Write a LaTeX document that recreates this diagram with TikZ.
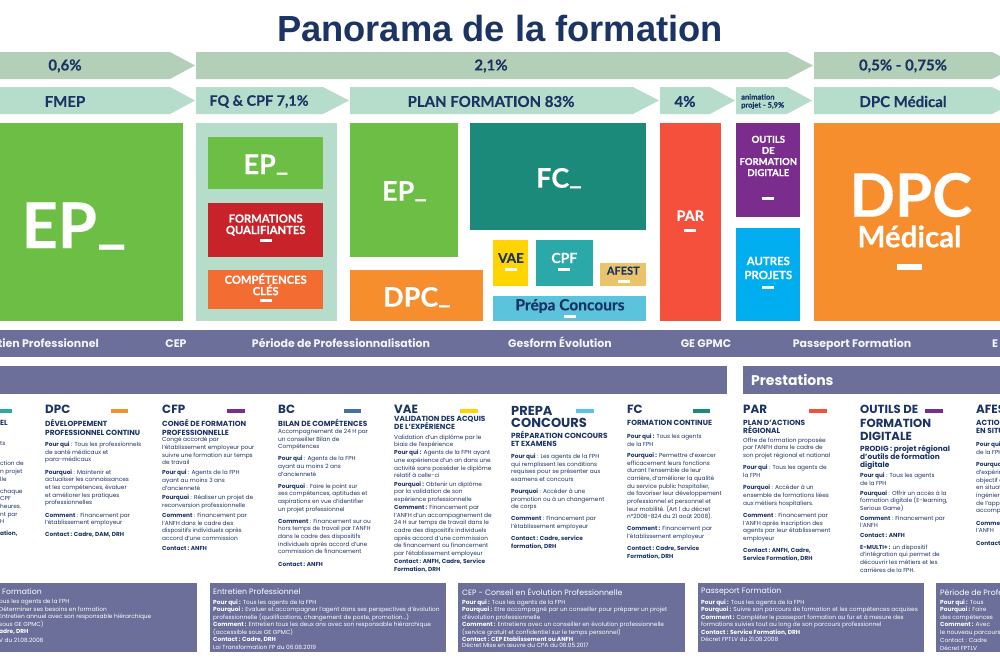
\documentclass[tikz,border=0pt]{standalone}
\usepackage{fontspec}
\setmainfont{Poppins}
\newfontfamily\latofont{Lato}[BoldFeatures={FakeBold=0.25}]
\newfontfamily\titrefont{Liberation Sans}
\newcommand{\fs}[1]{\fontsize{#1}{#1}\selectfont}
\newcommand{\souligne}{\raisebox{0.12em}{\_}}

\definecolor{marine}{HTML}{1B3464}
\definecolor{vertA}{HTML}{B3CFB8}
\definecolor{vertB}{HTML}{B6DDCC}
\definecolor{vertEP}{HTML}{6DBE45}
\definecolor{rougeFQ}{HTML}{C8232A}
\definecolor{orangeCC}{HTML}{F36C31}
\definecolor{orangeDPC}{HTML}{F68E2E}
\definecolor{tealFC}{HTML}{1C8A7A}
\definecolor{jauneVAE}{HTML}{FFD400}
\definecolor{tealCPF}{HTML}{2BA8A8}
\definecolor{sableAF}{HTML}{E9C46A}
\definecolor{cielPC}{HTML}{5BC4DC}
\definecolor{rougePAR}{HTML}{F4503B}
\definecolor{violetOF}{HTML}{7B2D8E}
\definecolor{bleuAP}{HTML}{00AEEF}
\definecolor{bleuBC}{HTML}{4A6FA5}
\definecolor{bande}{HTML}{6B6F99}

\tikzset{
  titre/.style={text=marine,font=\titrefont\bfseries\fs{36.3}},
  taux/.style={text=marine,font=\latofont\bfseries\fs{15}},
  grand/.style={text=white,font=\latofont\bfseries\fs{27},anchor=base},
  lib/.style={text=white,font=\latofont\bfseries\fontsize{11.2}{11.4}\selectfont,align=center},
  barre/.style={fill=white,minimum width=12pt,minimum height=3pt},
  bandeau/.style={text=white!92!bande,font=\bfseries\fs{11},anchor=base},
  entete/.style={text=marine,font=\bfseries\fs{11.9},anchor=west,align=left},
  soustitre/.style={text=marine,font=\bfseries\fontsize{7.4}{8.4}\selectfont,anchor=north west,align=left,yshift=1pt,execute at begin node=\strut},
  corps/.style={text=marine,font=\fontsize{5.8}{7.65}\selectfont,anchor=north west,align=left,yshift=-0.7pt,execute at begin node=\strut},
  fiche/.style={text=white,font=\fontsize{5.85}{7.5}\selectfont,anchor=north west,align=left,yshift=-1.5pt,execute at begin node=\strut},
  fichetitre/.style={text=white,font=\fs{7.75},anchor=west},
  repere/.style={minimum width=17.5pt,minimum height=4.3pt,anchor=west}
}

\begin{document}
\begin{tikzpicture}[x=1pt,y=-1pt,every node/.style={inner sep=0pt}]
  \useasboundingbox (0,0) rectangle (1000,667);
  \clip (0,0) rectangle (1000,667);
  \fill[white] (0,0) rectangle (1000,667);

  \node[titre] (ntitre) at (500,29) {Panorama de la formation};

  % chevrons
  \foreach \xa/\xb/\xc in {-5/170/195, 196/787/813, 814/992/1018}
    \fill[vertA] (\xa,52) -- (\xb,52) -- (\xc,65.5) -- (\xb,79) -- (\xa,79) -- cycle;
  \foreach \xa/\xb/\xc in {-5/170/195, 196/323/349, 350/633/659, 660/710/735, 736/787/812, 814/992/1018}
    \fill[vertB] (\xa,87) -- (\xb,87) -- (\xc,100.5) -- (\xb,114) -- (\xa,114) -- cycle;

  \node[taux] (t0) at (65,66) {0,6\%};
  \node[taux] (t1) at (491,66) {2,1\%};
  \node[taux] (t2) at (903,66) {0,5\% - 0,75\%};
  \node[taux] (r0) at (65,101.5) {FMEP};
  \node[taux,font=\latofont\bfseries\fs{14.4}] (r1) at (259,101.5) {FQ \& CPF 7,1\%};
  \node[taux] (r2) at (491,101.5) {PLAN FORMATION 83\%};
  \node[taux] (r3) at (685,101.5) {4\%};
  \node[taux,anchor=west,align=left,font=\latofont\bfseries\fontsize{7.5}{8}\selectfont] (r4) at (741,101.5) {animation\\projet - 5,9\%};
  \node[taux] (r5) at (903,101.5) {DPC Médical};

  % pavés
  \foreach \xa/\ya/\xb/\yb/\c in {
    -5/123/183/321/vertEP, 196/123/336.5/321/vertB, 208/137/323/189/vertEP,
    208/203/323/257/rougeFQ, 208/270/323/309/orangeCC, 350/123/457.5/257/vertEP,
    350/270/483/321/orangeDPC, 470/123/646/230/tealFC, 493/240/528/286/jauneVAE,
    536/240/593/286/tealCPF, 600/263/646/286/sableAF, 493/296/646/321/cielPC,
    660/123/721/321/rougePAR, 736/123/800/217/violetOF, 736/228/800/321/bleuAP,
    814/123/1005/321/orangeDPC}
    \fill[\c] (\xa,\ya) rectangle (\xb,\yb);

  \node[grand,font=\latofont\bfseries\fs{63}] (gEP) at (74,248) {EP\souligne};
  \node[grand] (fqEP) at (266,174) {EP\souligne};
  \node[grand] (plEP) at (404.5,200.7) {EP\souligne};
  \node[grand] (plDPC) at (417,306.7) {DPC\souligne};
  \node[grand] (plFC) at (559,187.7) {FC\souligne};
  \node[grand,font=\latofont\bfseries\fs{60}] (mDPC) at (910.7,216.7) {DPC};
  \node[grand,font=\latofont\bfseries\fs{29.5}] (mMED) at (909.5,247.3) {Médical};

  \node[lib] (fq) at (265.7,225) {FORMATIONS\\QUALIFIANTES};
  \node[lib] (cc) at (265.7,284.3) {COMPÉTENCES\\CLÉS};
  \node[lib,font=\latofont\bfseries\fontsize{9.5}{11.1}\selectfont] (of) at (768.3,156) {OUTILS\\DE\\FORMATION\\DIGITALE};
  \node[lib,font=\latofont\bfseries\fontsize{11.4}{14}\selectfont] (ap) at (768.3,268) {AUTRES\\PROJETS};
  \node[lib,font=\latofont\bfseries\fs{14.5}] (par) at (690.3,215.7) {PAR};
  \node[lib,text=marine,font=\latofont\bfseries\fs{13.5}] (vae) at (511,258) {VAE};
  \node[lib,font=\latofont\bfseries\fs{14}] (cpf) at (564.3,258) {CPF};
  \node[lib,text=marine,font=\latofont\bfseries\fs{11}] (afest) at (623.3,270.7) {AFEST};
  \node[lib,text=marine,font=\latofont\bfseries\fs{15.5}] (prepa) at (570,306) {Prépa Concours};

  \foreach \x/\y [count=\i] in {266/240.8, 266/300.3, 768/198.3, 768/287, 690/230.3, 511/269.2, 564/269.2, 623.7/281.2, 570/316.5}
    \node[barre] (b\i) at (\x,\y) {};
  \node[barre,minimum width=25pt,minimum height=6pt] (bm) at (909.5,267) {};

  % bandes
  \fill[bande] (0,330) rectangle (1000,357);
  \fill[bande] (0,366) rectangle (727,394);
  \fill[bande] (743,366) rectangle (1000,394);

  \node[bandeau,anchor=base east] (e0) at (99,347) {Entretien Professionnel};
  \foreach \x/\t [count=\i] in {176/CEP, 341/Période de Professionnalisation, 560/Gesform Évolution, 706/GE GPMC, 852/Passeport Formation}
    \node[bandeau] (e\i) at (\x,347) {\t};
  \node[bandeau,anchor=base west] (e6) at (992,347) {E};
  \node[anchor=west,text=white,font=\bfseries\fs{14}] (prest) at (751,380) {Prestations};

  % reperes des colonnes
  \foreach \x/\c [count=\i] in {-6/tealCPF, 110.7/orangeDPC, 227/violetOF, 343.3/bleuBC, 460/jauneVAE, 576/cielPC, 692.7/tealFC, 809/rougePAR, 925/violetOF}
    \node[repere,fill=\c] (m\i) at (\x,411) {};

  % colonne EP
  \node[soustitre] (st0) at (0,420.7) {EL};
  \node[corps] (c0) at (0,441.1) {ts\\[12.3pt]ction de\\n projet\\lle\\[4.4pt]chaque\\CPF\\heures.\\nt par\\H\\[4.4pt]\textbf{ation,}};

  % colonne DPC
  \node[entete] (h1) at (45,409) {DPC};
  \node[soustitre] (st1) at (45,420.4) {DÉVELOPPEMENT\\PROFESSIONNEL CONTINU};
  \node[corps] (c1) at (45,441.1) {\textbf{Pour qui} : Tous les professionnels\\de santé médicaux et\\para-médicaux\\[4.7pt]\textbf{Pourquoi} : Maintenir et\\actualiser les connaissances\\et les compétences, évaluer\\et améliorer les pratiques\\professionnelles\\[4.7pt]\textbf{Comment} : Financement par\\l’établissement employeur\\[4pt]\textbf{Contact : Cadre, DAM, DRH}};

  % colonne CFP
  \node[entete] (h2) at (162,409) {CFP};
  \node[soustitre] (st2) at (162,420.4) {CONGÉ DE FORMATION\\PROFESSIONNELLE};
  \node[corps] (c2) at (162,436.5) {Congé accordé par\\l’établissement employeur pour\\suivre une formation sur temps\\de travail\\[2.3pt]\textbf{Pour qui} : Agents de la FPH\\ayant au moins 3 ans\\d’ancienneté\\[2.2pt]\textbf{Pourquoi} : Réaliser un projet de\\reconversion professionnelle\\[2.3pt]\textbf{Comment} : Financement par\\l’ANFH dans le cadre des\\dispositifs individuels après\\accord d’une commission\\[2pt]\textbf{Contact : ANFH}};

  % colonne BC
  \node[entete] (h3) at (278,409) {BC};
  \node[soustitre] (st3) at (278,420) {BILAN DE COMPÉTENCES};
  \node[corps] (c3) at (278,428.2) {Accompagnement de 24 H par\\un conseiller Bilan de\\Compétences\\[4.6pt]\textbf{Pour qui} : Agents de la FPH\\ayant au moins 2 ans\\d’ancienneté\\[4.4pt]\textbf{Pourquoi} : Faire le point sur\\ses compétences, aptitudes et\\aspirations en vue d’identifier\\un projet professionnel\\[4.4pt]\textbf{Comment} : Financement sur ou\\hors temps de travail par l’ANFH\\dans le cadre des dispositifs\\individuels après accord d’une\\commission de financement\\[4.6pt]\textbf{Contact : ANFH}};

  % colonne VAE
  \node[entete] (h4) at (394,409) {VAE};
  \node[soustitre] (st4) at (394,416.7) {VALIDATION DES ACQUIS\\DE L’EXPÉRIENCE};
  \node[corps] (c4) at (394,433.9) {Validation d’un diplôme par le\\biais de l’expérience\\[0.4pt]\textbf{Pour qui :} Agents de la FPH ayant\\une expérience d’un an dans une\\activité sans posséder le diplôme\\relatif à celle-ci\\[0.7pt]\textbf{Pourquoi :} Obtenir un diplôme\\par la validation de son\\expérience professionnelle\\[0.4pt]\textbf{Comment :} Financement par\\l’ANFH d’un accompagnement de\\24 H sur temps de travail dans le\\cadre des dispositifs individuels\\après accord d’une commission\\de financement ou financement\\par l’établissement employeur\\[0.7pt]\textbf{Contact : ANFH, Cadre, Service}\\\textbf{Formation, DRH}};

  % colonne PREPA
  \node[entete,font=\bfseries\fontsize{13}{11.7}\selectfont,anchor=north west] (h5) at (511,406) {PREPA\\CONCOURS};
  \node[soustitre] (st5) at (511,431.7) {PRÉPARATION CONCOURS\\ET EXAMENS};
  \node[corps] (c5) at (511,452.9) {\textbf{Pour qui} : Les agents de la FPH\\qui remplissent les conditions\\requises pour se présenter aux\\examens et concours\\[4.4pt]\textbf{Pourquoi} : Accéder à une\\promotion ou à un changement\\de corps\\[4.4pt]\textbf{Comment} : Financement par\\l’établissement employeur\\[4.7pt]\textbf{Contact : Cadre, service}\\\textbf{formation, DRH}};

  % colonne FC
  \node[entete] (h6) at (627,409) {FC};
  \node[soustitre] (st6) at (627,420.4) {FORMATION CONTINUE};
  \node[corps] (c6) at (627,433.2) {\textbf{Pour qui :} Tous les agents\\de la FPH\\[3.6pt]\textbf{Pourquoi :} Permettre d’exercer\\efficacement leurs fonctions\\durant l’ensemble de leur\\carrière, d’améliorer la qualité\\du service public hospitalier,\\de favoriser leur développement\\professionnel et personnel et\\leur mobilité. (Art 1 du décret\\n°2008-824 du 21 août 2008).\\[4.4pt]\textbf{Comment :} Financement par\\l’établissement employeur\\[4.4pt]\textbf{Contact : Cadre, Service}\\\textbf{Formation, DRH}};

  % colonne PAR
  \node[entete] (h7) at (743,409) {PAR};
  \node[soustitre] (st7) at (743,420.7) {PLAN D’ACTIONS\\RÉGIONAL};
  \node[corps] (c7) at (743,436.9) {Offre de formation proposée\\par l’ANFH dans le cadre de\\son projet régional et national\\[4.6pt]\textbf{Pour qui} : Tous les agents de\\la FPH\\[4.7pt]\textbf{Pourquoi} :  Accéder à un\\ensemble de formations liées\\aux métiers hospitaliers.\\[4.7pt]\textbf{Comment} : Financement par\\l’ANFH après inscription des\\agents par leur établissement\\employeur\\[4.4pt]\textbf{Contact : ANFH, Cadre,}\\\textbf{Service Formation, DRH}};

  % colonne OUTILS
  \node[entete,font=\bfseries\fontsize{11.7}{13.65}\selectfont,anchor=north west] (h8) at (860,405) {OUTILS DE\\FORMATION\\DIGITALE};
  \node[soustitre] (st8) at (860,445.7) {PRODIG : projet régional\\d’outils de formation\\digitale};
  \node[corps] (c8) at (860,472.2) {\textbf{Pour qui} : Tous les agents\\de la FPH\\[2pt]\textbf{Pourquoi} : Offrir un accès à la\\formation digitale (E-learning,\\Serious Game)\\[2pt]\textbf{Comment} : Financement par\\l’ANFH\\[2pt]\textbf{Contact : ANFH}\\[4.3pt]\textbf{E-MULTI+ :} un dispositif\\d’intégration qui permet de\\découvrir les métiers et les\\carrières de la FPH.};

  % colonne AFEST
  \node[entete] (h9) at (976,409) {AFEST};
  \node[soustitre] (st9) at (976,420.7) {ACTION\\EN SITU};
  \node[corps] (c9) at (976,440.9) {\textbf{Pour qui}\\de la FPH\\[5pt]\textbf{Pourquoi}\\d’expérim\\objectif d\\en situat\\ingénier\\de l’appr\\accomp\\[5pt]\textbf{Comme}\\l’ANFH\\[4.4pt]\textbf{Contact}};

  % fiches du bas
  \foreach \xa/\xb in {-5/197, 210/446, 458/685, 698/924, 936/1005}
    \fill[bande] (\xa,583) rectangle (\xb,652);

  \node[fichetitre] (f0) at (2,592) {Formation};
  \node[fiche] (g0) at (-1,597.8) {ous les agents de la FPH\\Déterminer ses besoins en formation\\Entretien annuel avec son responsable hiérarchique\\sous GE GPMC)\\\textbf{adre, DRH}\\[0.8pt]V du 21.08.2008};

  \node[fichetitre] (f1) at (213,592) {Entretien Professionnel};
  \node[fiche] (g1) at (213,597.8) {\textbf{Pour qui :} Tous les agents de la FPH\\\textbf{Pourquoi :} Evaluer et accompagner l’agent dans ses perspectives d’évolution\\professionnelle (qualifications, changement de poste, promotion...)\\\textbf{Comment :} Entretien tous les deux ans avec son responsable hiérarchique\\(accessible sous GE GPMC)\\\textbf{Contact : Cadre, DRH}\\Loi Transformation FP du 06.08.2019};

  \node[fichetitre] (f2) at (462,592) {CEP - Conseil en Évolution Professionnelle};
  \node[fiche] (g2) at (462,597.8) {\textbf{Pour qui :} Tous les agents de la FPH\\\textbf{Pourquoi :} Etre accompagné par un conseiller pour préparer un projet\\d’évolution professionnelle\\\textbf{Comment :} Entretiens avec un conseiller en évolution professionnelle\\(service gratuit et confidentiel sur le temps personnel)\\\textbf{Contact :  CEP Etablissement ou ANFH}\\[-2pt]Décret Mise en œuvre du CPA du 06.05.2017};

  \node[fichetitre] (f3) at (701,592) {Passeport Formation};
  \node[fiche] (g3) at (701,597.8) {\textbf{Pour qui :} Tous les agents de la FPH\\\textbf{Pourquoi :} Suivre son parcours de formation et les compétences acquises\\\textbf{Comment :} Compléter le passeport formation au fur et à mesure des\\formations suivies tout au long de son parcours professionnel\\\textbf{Contact : Service Formation, DRH}\\Décret FPTLV du 21.08.2008};

  \node[fichetitre] (f4) at (940,592) {Période de Professionnalisation};
  \node[fiche] (g4) at (940,597.8) {\textbf{Pour qui :} Tous\\\textbf{Pourquoi :} Faire\\des compétences\\\textbf{Comment :} Avec\\le nouveau parcours\\[1pt]Contact : Cadre\\Décret FPTLV};
\end{tikzpicture}
\end{document}
